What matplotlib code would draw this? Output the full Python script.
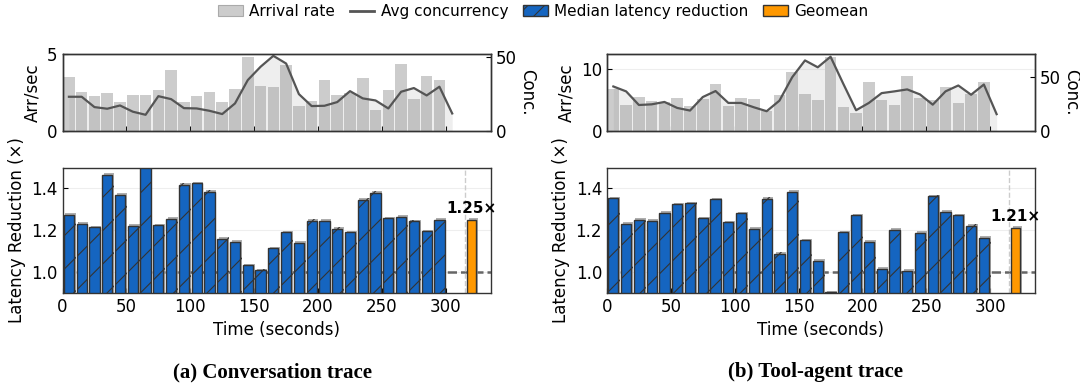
import numpy as np
import matplotlib
matplotlib.use('Agg')
import matplotlib.pyplot as plt
from matplotlib.patches import Patch
from matplotlib.lines import Line2D
import matplotlib.patheffects as pe

# time bins (seconds), bar centers and concurrency sample points
bin_times = np.arange(5, 300, 10)
conc_times = np.arange(5, 310, 10)
geo_x = 320

# (a) conversation trace
conv_arrival = [3.53, 2.51, 2.25, 2.45, 1.86, 2.32, 2.32, 2.64, 4.0, 1.86,
                2.25, 2.51, 1.86, 2.71, 4.85, 2.9, 2.84, 4.33, 1.65, 1.95,
                3.35, 2.32, 2.45, 3.42, 1.36, 2.64, 4.39, 2.06, 3.61, 3.35]
conv_conc = [23.2, 23.2, 16.2, 15.1, 17.3, 13.1, 11.0, 23.6, 21.6, 15.5,
             15.3, 13.7, 11.5, 18.7, 34.5, 43.5, 50.9, 45.7, 25.0, 16.9,
             17.1, 19.6, 27.0, 22.1, 20.7, 15.3, 26.6, 29.1, 24.1, 30.0, 11.9]
conv_reduction = [1.275, 1.232, 1.213, 1.465, 1.370, 1.221, 1.52, 1.224, 1.254, 1.417,
                  1.425, 1.384, 1.159, 1.143, 1.032, 1.008, 1.114, 1.189, 1.138, 1.246,
                  1.246, 1.208, 1.190, 1.346, 1.379, 1.256, 1.265, 1.243, 1.194, 1.251]
conv_geomean = 1.25

# (b) tool-agent trace
tool_arrival = [6.74, 4.21, 5.47, 4.74, 4.63, 5.32, 4.05, 5.05, 7.58, 3.95,
                5.32, 5.16, 3.21, 5.79, 9.42, 6.0, 5.0, 11.9, 3.89, 2.95,
                7.89, 5.0, 4.21, 8.84, 5.32, 5.0, 7.05, 4.42, 5.89, 7.89]
tool_conc = [40.9, 36.4, 23.9, 24.5, 26.7, 21.2, 18.8, 31.2, 36.7, 25.8,
             25.8, 21.8, 18.2, 27.9, 49.4, 64.8, 58.5, 68.2, 43.3, 19.1,
             25.8, 34.8, 36.4, 38.2, 33.6, 24.2, 36.4, 41.8, 33.3, 42.7, 15.5]
tool_reduction = [1.352, 1.229, 1.249, 1.244, 1.284, 1.324, 1.329, 1.257, 1.348, 1.237,
                  1.281, 1.205, 1.349, 1.086, 1.384, 1.152, 1.054, 0.903, 1.189, 1.271,
                  1.144, 1.016, 1.202, 1.005, 1.186, 1.362, 1.287, 1.271, 1.221, 1.165]
tool_geomean = 1.21

ARR_COLOR = '#cccccc'
LINE_COLOR = '#555555'
BLUE = '#1565c0'
ORANGE = '#ff9800'
EDGE = '#333333'

plt.rcParams['hatch.linewidth'] = 0.8


def style_spines(ax):
    for s in ax.spines.values():
        s.set_color(EDGE)
        s.set_linewidth(1.0)


def draw_panel(ax_top, ax_bot, arrival, conc, reduction, geomean,
               arr_ylim, arr_ticks, conc_ylim):
    # top: arrival rate bars + concurrency line on twin axis
    ax_top.bar(bin_times, arrival, width=9, color=ARR_COLOR, zorder=2)
    ax_top.set_ylim(*arr_ylim)
    ax_top.set_yticks(arr_ticks)
    ax_top.set_xlim(0, 335)
    ax_top.set_xticks([50, 100, 150, 200, 250, 300])
    ax_top.tick_params(direction='in', labelsize=12, labelbottom=False)
    ax_top.set_ylabel('Arr/sec', fontsize=12)
    ax_top.yaxis.grid(True, color='#eeeeee', lw=0.8, zorder=0)
    ax_top.set_axisbelow(True)

    ax_c = ax_top.twinx()
    ax_c.fill_between(conc_times, conc, color='gray', alpha=0.13, lw=0)
    ax_c.plot(conc_times, conc, color=LINE_COLOR, lw=1.6)
    ax_c.set_ylim(*conc_ylim)
    ax_c.set_yticks([0, 50])
    ax_c.tick_params(direction='in', labelsize=12)
    ax_c.set_ylabel('Conc.', fontsize=12, rotation=270, labelpad=14)
    style_spines(ax_top)
    style_spines(ax_c)

    # bottom: latency reduction bars
    shadow = [pe.SimplePatchShadow(offset=(1.2, 1.2), shadow_rgbFace='#9a9a9a', alpha=0.8),
              pe.Normal()]
    ax_bot.axhline(1.0, color='#666666', ls='--', lw=1.8, zorder=1)
    ax_bot.axvline(315, color='#cccccc', ls='--', lw=1.0, zorder=1)
    bars = ax_bot.bar(bin_times, reduction, width=8, color=BLUE, edgecolor=EDGE,
                      lw=1.0, hatch='/', zorder=2)
    for b in bars:
        b.set_path_effects(shadow)
    gb = ax_bot.bar([geo_x], [geomean], width=7, color=ORANGE, edgecolor=EDGE,
                    lw=1.0, zorder=2)
    gb[0].set_path_effects(shadow)
    ax_bot.text(geo_x, geomean + 0.02, f'{geomean:.2f}×', ha='center', va='bottom',
                fontsize=11, fontweight='bold', zorder=5)
    ax_bot.set_ylim(0.9, 1.5)
    ax_bot.set_yticks([1.0, 1.2, 1.4])
    ax_bot.set_xlim(0, 335)
    ax_bot.set_xticks([0, 50, 100, 150, 200, 250, 300])
    ax_bot.tick_params(direction='in', labelsize=12)
    ax_bot.yaxis.grid(True, color='#eeeeee', lw=0.8)
    ax_bot.set_axisbelow(True)
    ax_bot.set_xlabel('Time (seconds)', fontsize=12)
    ax_bot.set_ylabel('Latency Reduction (×)', fontsize=12)
    style_spines(ax_bot)


fig = plt.figure(figsize=(10.8, 3.9), dpi=100)

ax_a_top = fig.add_axes([0.0579, 0.664, 0.3963, 0.197])
ax_a_bot = fig.add_axes([0.0579, 0.249, 0.3963, 0.3215])
ax_b_top = fig.add_axes([0.562, 0.664, 0.3963, 0.197])
ax_b_bot = fig.add_axes([0.562, 0.249, 0.3963, 0.3215])

draw_panel(ax_a_top, ax_a_bot, conv_arrival, conv_conc, conv_reduction, conv_geomean,
           (0, 5), [0, 5], (0, 52))
draw_panel(ax_b_top, ax_b_bot, tool_arrival, tool_conc, tool_reduction, tool_geomean,
           (0, 12.3), [0, 10], (0, 70.5))

handles = [
    Patch(facecolor=ARR_COLOR, edgecolor='#aaaaaa', lw=0.8),
    Line2D([0], [0], color=LINE_COLOR, lw=2),
    Patch(facecolor=BLUE, edgecolor=EDGE, hatch='//'),
    Patch(facecolor=ORANGE, edgecolor=EDGE),
]
labels = ['Arrival rate', 'Avg concurrency', 'Median latency reduction', 'Geomean']
fig.legend(handles, labels, loc='upper center', bbox_to_anchor=(0.503, 1.025), ncol=4,
           frameon=False, fontsize=11, handlelength=1.6, handletextpad=0.4,
           columnspacing=1.0)

fig.text(0.252, 0.045, '(a) Conversation trace', ha='center', va='center',
         family='Liberation Serif', fontweight='bold', fontsize=15)
fig.text(0.755, 0.045, '(b) Tool-agent trace', ha='center', va='center',
         family='Liberation Serif', fontweight='bold', fontsize=15)

fig.savefig('out.png', dpi=100)
